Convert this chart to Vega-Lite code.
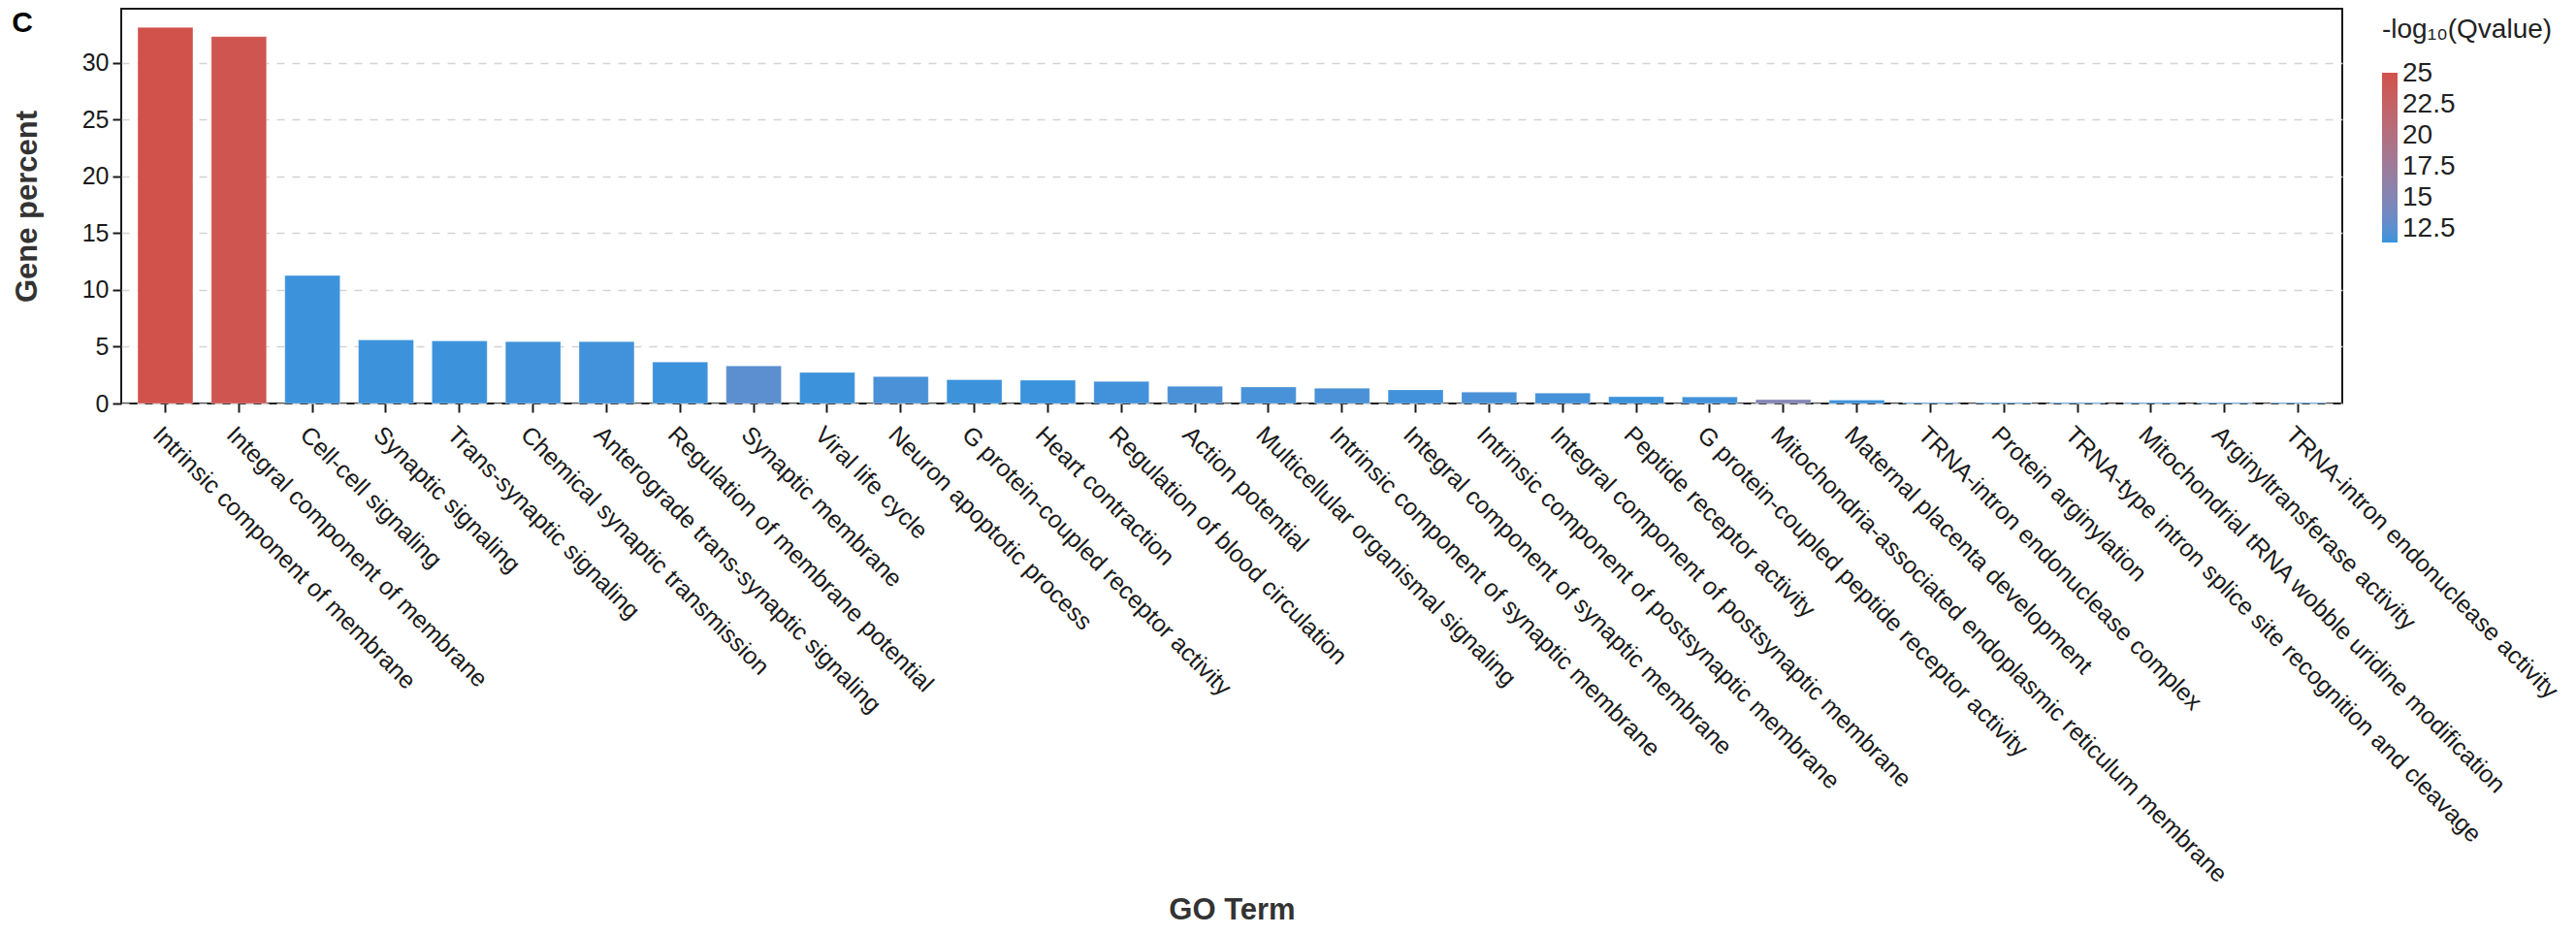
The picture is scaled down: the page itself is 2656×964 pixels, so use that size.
{
  "$schema": "https://vega.github.io/schema/vega-lite/v6.json",
  "width": 2290,
  "height": 407,
  "autosize": "none",
  "padding": {"left": 125, "top": 9, "right": 241, "bottom": 548},
  "background": "white",
  "title": {
    "text": "C",
    "anchor": "start",
    "frame": "bounds",
    "dx": 0,
    "dy": 34,
    "fontSize": 30,
    "fontWeight": "bold",
    "font": "Liberation Sans",
    "color": "#000000"
  },
  "config": {
    "font": "Liberation Sans",
    "view": {"stroke": "#1a1a1a", "strokeWidth": 2},
    "axis": {
      "domain": false,
      "tickColor": "#1a1a1a",
      "tickWidth": 2,
      "tickSize": 9,
      "labelColor": "#1a1a1a",
      "labelFont": "Liberation Sans",
      "labelFontSize": 25,
      "titleFont": "Liberation Sans",
      "titleFontSize": 31,
      "titleFontWeight": "bold",
      "titleColor": "#333333"
    }
  },
  "data": {
    "values": [
      {"term": "Intrinsic component of membrane", "percent": 33.1, "q": 25.05},
      {"term": "Integral component of membrane", "percent": 32.3, "q": 24.6},
      {"term": "Cell-cell signaling", "percent": 11.26, "q": 11.45},
      {"term": "Synaptic signaling", "percent": 5.6, "q": 11.45},
      {"term": "Trans-synaptic signaling", "percent": 5.5, "q": 11.45},
      {"term": "Chemical synaptic transmission", "percent": 5.45, "q": 11.6},
      {"term": "Anterograde trans-synaptic signaling", "percent": 5.45, "q": 11.6},
      {"term": "Regulation of membrane potential", "percent": 3.65, "q": 11.45},
      {"term": "Synaptic membrane", "percent": 3.3, "q": 12.6},
      {"term": "Viral life cycle", "percent": 2.73, "q": 11.45},
      {"term": "Neuron apoptotic process", "percent": 2.36, "q": 11.9},
      {"term": "G protein-coupled receptor activity", "percent": 2.1, "q": 11.45},
      {"term": "Heart contraction", "percent": 2.05, "q": 11.41},
      {"term": "Regulation of blood circulation", "percent": 1.94, "q": 11.6},
      {"term": "Action potential", "percent": 1.51, "q": 11.9},
      {"term": "Multicellular organismal signaling", "percent": 1.45, "q": 11.8},
      {"term": "Intrinsic component of synaptic membrane", "percent": 1.34, "q": 11.9},
      {"term": "Integral component of synaptic membrane", "percent": 1.2, "q": 11.6},
      {"term": "Intrinsic component of postsynaptic membrane", "percent": 1.0, "q": 11.9},
      {"term": "Integral component of postsynaptic membrane", "percent": 0.91, "q": 11.7},
      {"term": "Peptide receptor activity", "percent": 0.6, "q": 11.45},
      {"term": "G protein-coupled peptide receptor activity", "percent": 0.57, "q": 11.6},
      {"term": "Mitochondria-associated endoplasmic reticulum membrane", "percent": 0.34, "q": 15.0},
      {"term": "Maternal placenta development", "percent": 0.3, "q": 11.45},
      {"term": "TRNA-intron endonuclease complex", "percent": 0.08, "q": 11.8},
      {"term": "Protein arginylation", "percent": 0.08, "q": 11.8},
      {"term": "TRNA-type intron splice site recognition and cleavage", "percent": 0.08, "q": 11.8},
      {"term": "Mitochondrial tRNA wobble uridine modification", "percent": 0.08, "q": 11.8},
      {"term": "Arginyltransferase activity", "percent": 0.08, "q": 11.8},
      {"term": "TRNA-intron endonuclease activity", "percent": 0.08, "q": 11.8}
    ]
  },
  "mark": {"type": "bar", "stroke": "#ffffff", "strokeOpacity": 0.3, "strokeWidth": 1},
  "encoding": {
    "x": {
      "field": "term",
      "type": "nominal",
      "sort": null,
      "title": "GO Term",
      "scale": {"paddingInner": 0.25, "paddingOuter": 0.225},
      "axis": {
        "labelAngle": 45,
        "labelAlign": "left",
        "labelBaseline": "top",
        "labelPadding": 10,
        "labelLimit": 1000,
        "labelOverlap": false,
        "titleBaseline": "alphabetic",
        "titleY": 531
      }
    },
    "y": {
      "field": "percent",
      "type": "quantitative",
      "title": "Gene percent",
      "scale": {"domain": [0, 34.75], "nice": false, "zero": true},
      "axis": {
        "values": [0, 5, 10, 15, 20, 25, 30],
        "labelPadding": 4,
        "titlePadding": 40,
        "grid": true,
        "gridColor": "#d4d4d4",
        "gridDash": [8, 8],
        "gridWidth": 1.5
      }
    },
    "color": {
      "field": "q",
      "type": "quantitative",
      "title": "-log₁₀(Qvalue)",
      "scale": {
        "domain": [11.41, 25.05],
        "range": ["#3a93dc", "#d1524b"],
        "interpolate": "lab"
      },
      "legend": {
        "orient": "none",
        "legendX": 2331,
        "legendY": 8,
        "direction": "vertical",
        "values": [12.5, 15, 17.5, 20, 22.5, 25],
        "format": ".1~f",
        "gradientLength": 175,
        "gradientThickness": 16,
        "gradientStrokeWidth": 0,
        "titleFontSize": 28,
        "titleFontWeight": "normal",
        "titleColor": "#222222",
        "titlePadding": 30,
        "titleLimit": 400,
        "labelFontSize": 28,
        "labelColor": "#222222",
        "labelOffset": 5,
        "labelOverlap": false
      }
    }
  }
}
